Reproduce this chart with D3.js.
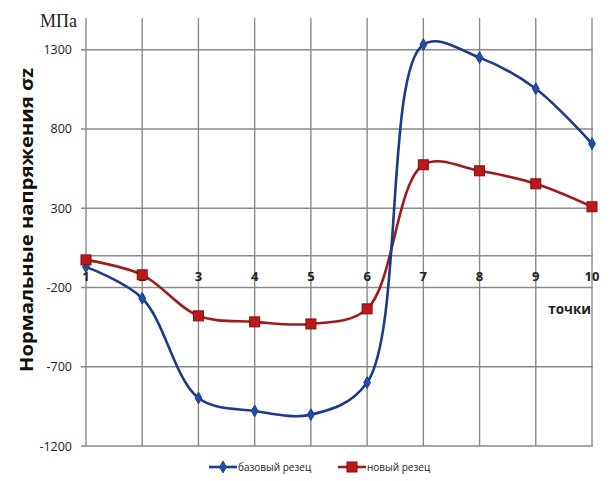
<!DOCTYPE html>
<html><head><meta charset="utf-8">
<script src="https://cdn.jsdelivr.net/npm/d3@7"></script>
<style>body{margin:0;background:#fff}svg{display:block}</style>
</head><body>
<svg id="c" width="612" height="481"></svg>
<script>
const points = [1,2,3,4,5,6,7,8,9,10];
const baseCutter = [-70,-268,-897,-979,-1002,-800,1332,1250,1054,707];
const newCutter = [-26,-120,-379,-417,-430,-335,574,536,454,309];
const yTicks = [1300,800,300,-200,-700,-1200];
const seriesNames = ["базовый резец","новый резец"];

const svg = d3.select("#c");
const x = d3.scalePoint().domain(points).range([86,592]);
const y = d3.scaleLinear().domain([-1200,1500]).range([446,18]);
const grid = "#8a8a8a";

// horizontal grid
svg.append("g").selectAll("line").data(yTicks.concat([0])).join("line")
  .attr("x1",81).attr("x2",593).attr("y1",d=>y(d)).attr("y2",d=>y(d))
  .attr("stroke",grid).attr("stroke-width",1.4);
// vertical grid
svg.append("g").selectAll("line").data(points).join("line")
  .attr("x1",d=>x(d)).attr("x2",d=>x(d)).attr("y1",y(1500)).attr("y2",y(-1200))
  .attr("stroke",grid).attr("stroke-width",1.4);

// y tick labels
svg.append("g").selectAll("text").data(yTicks).join("text")
  .attr("x",72).attr("y",d=>y(d)+4.5).attr("text-anchor","end")
  .attr("font-family","Open Sans, Liberation Sans, sans-serif").attr("font-size",12.5).attr("fill","#222")
  .text(d=>d);
// x tick labels
svg.append("g").selectAll("text").data(points).join("text")
  .attr("x",d=>x(d)).attr("y",y(0)+25).attr("text-anchor","middle")
  .attr("font-family","Open Sans, Liberation Sans, sans-serif").attr("font-weight","bold").attr("font-size",13).attr("fill","#222")
  .text(d=>d);

svg.append("text").attr("x",40).attr("y",27).attr("font-family","Liberation Serif, serif").attr("font-size",18).attr("fill","#222").text("МПа");
svg.append("text").attr("x",591).attr("y",314).attr("text-anchor","end").attr("font-family","Open Sans, DejaVu Sans, sans-serif").attr("font-weight","bold").attr("font-size",13.5).attr("fill","#222").text("точки");
svg.append("text").attr("transform","translate(33,220) rotate(-90)").attr("text-anchor","middle")
  .attr("font-family","Open Sans, DejaVu Sans, sans-serif").attr("font-weight","bold").attr("font-size",18.5).attr("fill","#111")
  .attr("textLength",304).attr("lengthAdjust","spacingAndGlyphs")
  .text("Нормальные напряжения σz");

const line = d3.line().x((d,i)=>x(points[i])).y(d=>y(d)).curve(d3.curveCatmullRom.alpha(0.5));
const blue = "#1c3a8a", red = "#9e1b1b";

svg.append("path").attr("d",line(newCutter)).attr("fill","none").attr("stroke",red).attr("stroke-width",2.6);
svg.append("path").attr("d",line(baseCutter)).attr("fill","none").attr("stroke",blue).attr("stroke-width",2.6);

const diamond = d3.symbol().type(d3.symbolDiamond).size(40);
svg.append("g").selectAll("path").data(baseCutter).join("path")
  .attr("d",diamond).attr("transform",(d,i)=>`translate(${x(points[i])},${y(d)})`).attr("fill","#1f4fa8").attr("stroke",blue);
svg.append("g").selectAll("rect").data(newCutter).join("rect")
  .attr("x",(d,i)=>x(points[i])-5).attr("y",d=>y(d)-5).attr("width",10).attr("height",10)
  .attr("fill","#c01818").attr("stroke","#7a1010").attr("stroke-width",1);

// legend
const lg = svg.append("g").attr("font-family","Open Sans, Liberation Sans, sans-serif").attr("font-size",10).attr("fill","#222");
lg.append("line").attr("x1",209).attr("x2",237).attr("y1",467).attr("y2",467).attr("stroke",blue).attr("stroke-width",2.6);
lg.append("path").attr("d",diamond).attr("transform","translate(223,467)").attr("fill","#1f4fa8").attr("stroke",blue);
lg.append("text").attr("x",238).attr("y",470.5).text(seriesNames[0]);
lg.append("line").attr("x1",338).attr("x2",366).attr("y1",467).attr("y2",467).attr("stroke",red).attr("stroke-width",2.6);
lg.append("rect").attr("x",347).attr("y",462).attr("width",10).attr("height",10).attr("fill","#c01818").attr("stroke","#7a1010");
lg.append("text").attr("x",367).attr("y",470.5).text(seriesNames[1]);
</script>
</body></html>
